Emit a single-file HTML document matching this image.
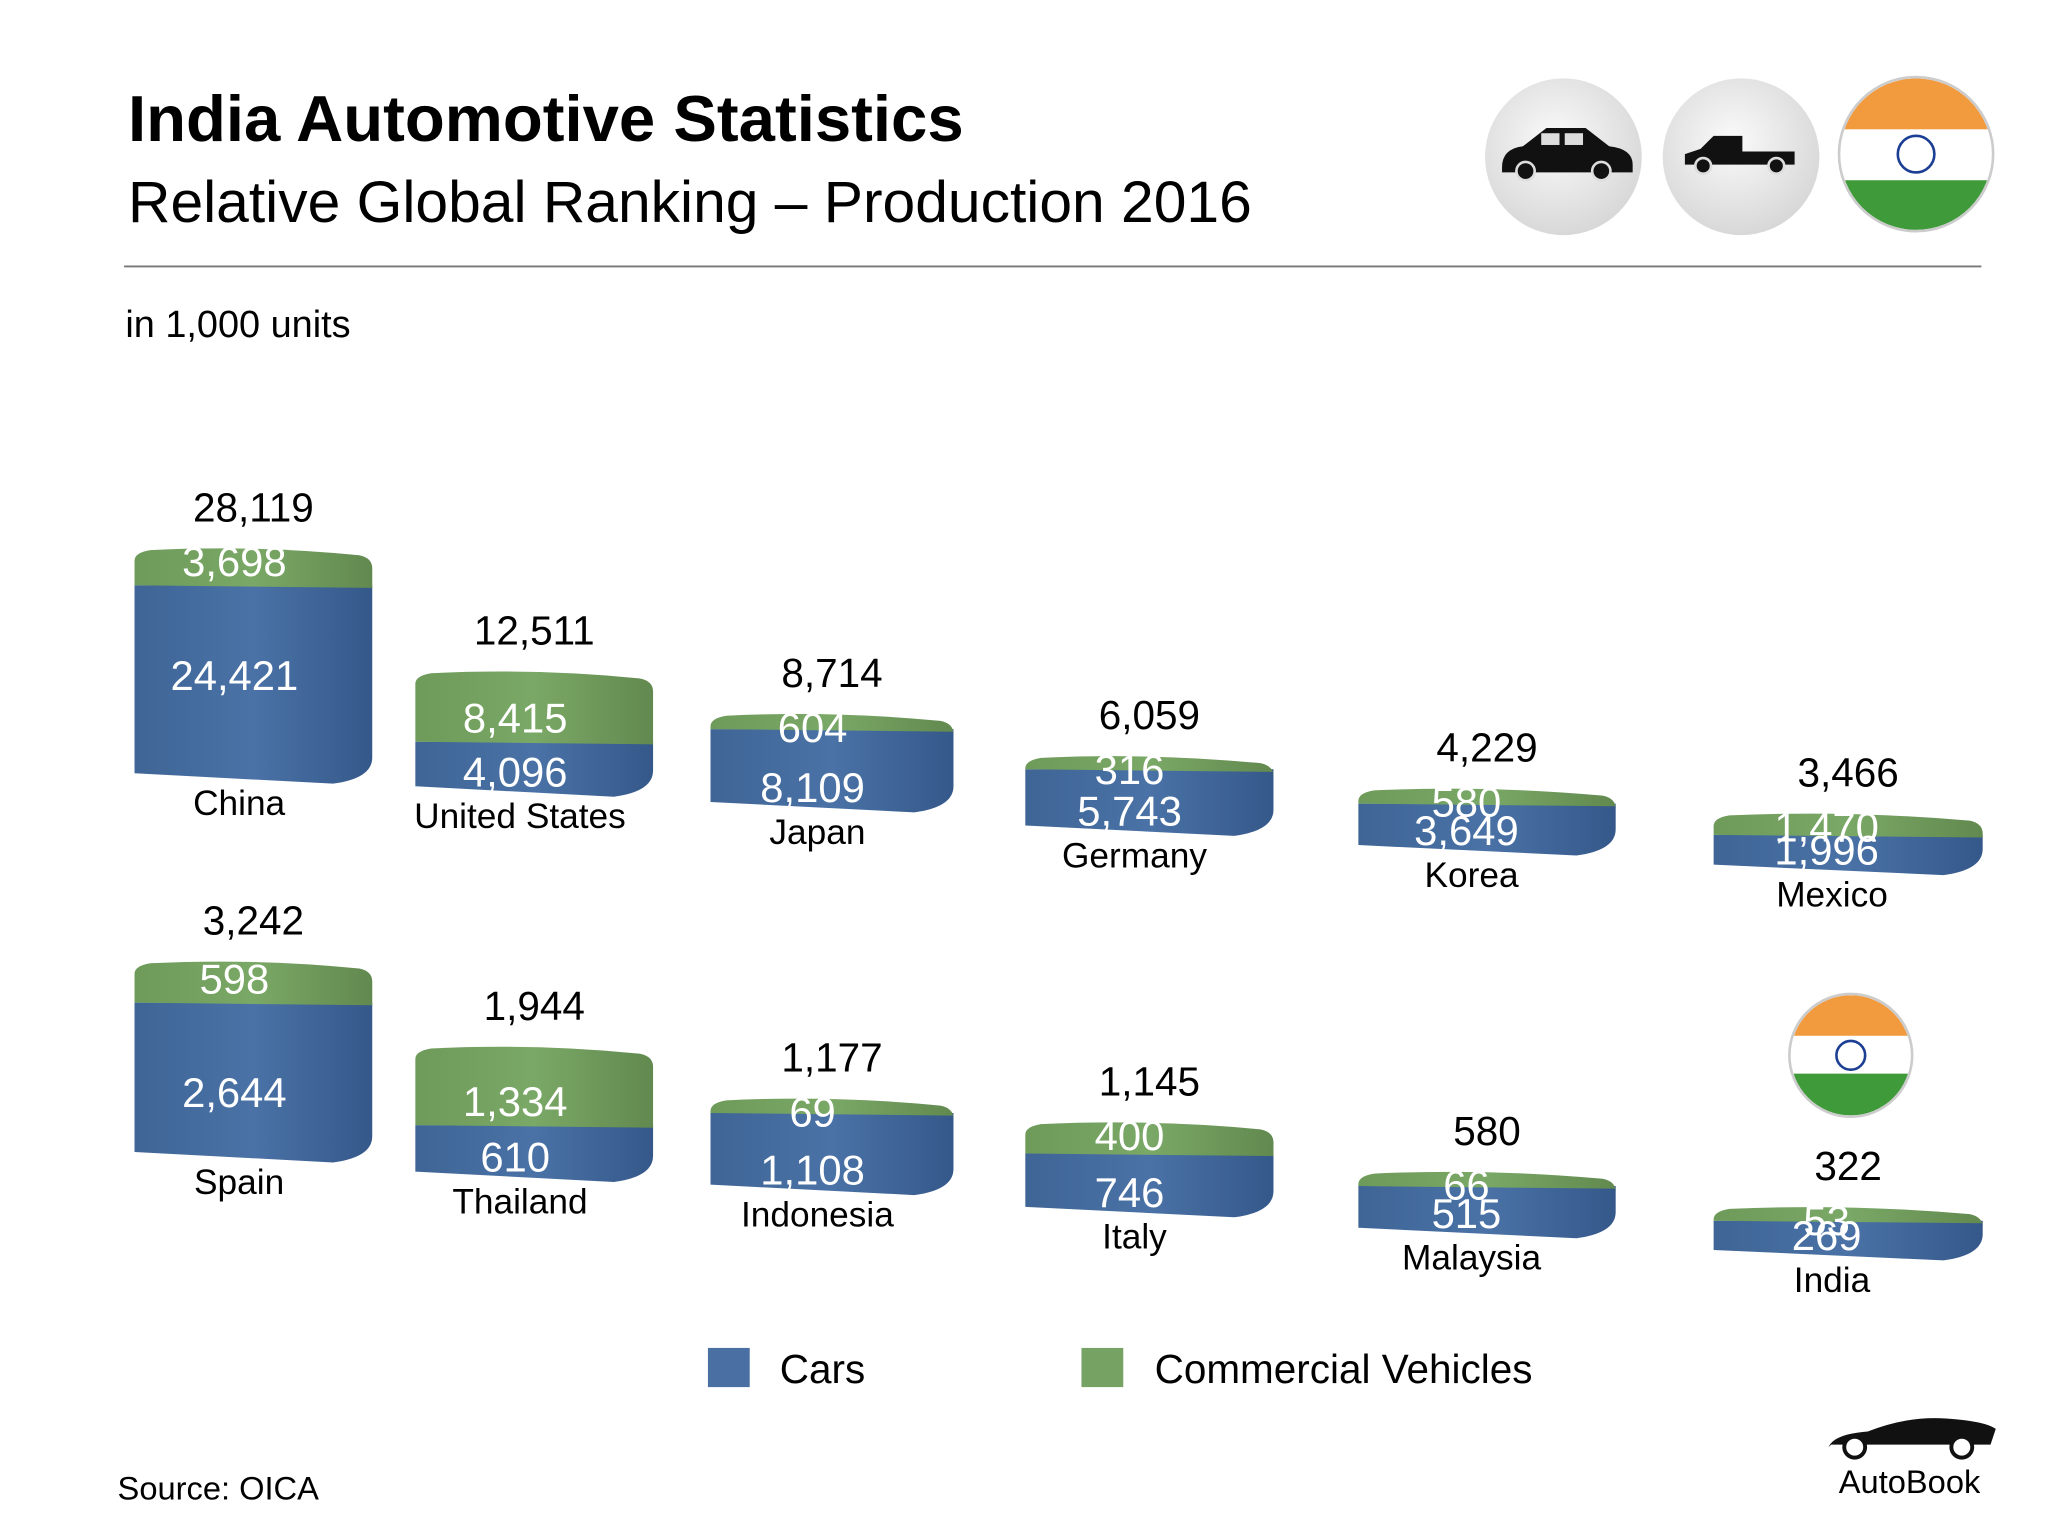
<!DOCTYPE html>
<html><head><meta charset="utf-8">
<style>
html,body{margin:0;padding:0;background:#fff;}
svg{display:block;font-family:"Liberation Sans",sans-serif;}
</style></head>
<body>
<svg id="c" width="2048" height="1536" viewBox="0 0 1568 1176" xmlns="http://www.w3.org/2000/svg">
<defs>
<linearGradient id="gb" x1="0" x2="1" y1="0" y2="0"><stop offset="0" stop-color="#3f6596"/><stop offset="0.5" stop-color="#4a72a6"/><stop offset="1" stop-color="#35588a"/></linearGradient>
<linearGradient id="gg" x1="0" x2="1" y1="0" y2="0"><stop offset="0" stop-color="#6e9a5a"/><stop offset="0.5" stop-color="#7aa866"/><stop offset="1" stop-color="#62894f"/></linearGradient>
<radialGradient id="gc" cx="0.45" cy="0.4" r="0.6"><stop offset="0" stop-color="#fafafa"/><stop offset="1" stop-color="#d8d8d8"/></radialGradient>
<clipPath id="fc1"><circle cx="1467" cy="118" r="58"/></clipPath>
<clipPath id="fc2"><circle cx="1417" cy="808" r="46"/></clipPath>
</defs>
<text x="98" y="108" font-size="50" font-weight="bold">India Automotive Statistics</text>
<text x="98" y="170" font-size="45">Relative Global Ranking – Production 2016</text>
<line x1="95" y1="204" x2="1517" y2="204" stroke="#777" stroke-width="1.5"/>
<text x="96" y="258" font-size="29">in 1,000 units</text>
<g>
<circle cx="1197" cy="120" r="60" fill="url(#gc)"/>
<path d="M1150 128 q0-14 16-16 l18-14 h30 l18 14 q18 2 18 14 v6 h-100z" fill="#111"/>
<rect x="1180" y="102" width="14" height="9" fill="#ddd"/><rect x="1198" y="102" width="14" height="9" fill="#ddd"/>
<circle cx="1168" cy="131" r="7" fill="#111" stroke="#ddd" stroke-width="2"/><circle cx="1226" cy="131" r="7" fill="#111" stroke="#ddd" stroke-width="2"/>
</g>
<g>
<circle cx="1333" cy="120" r="60" fill="url(#gc)"/>
<path d="M1290 126 v-8 l12-4 l10-10 h22 v12 h40 v10z" fill="#111"/>
<circle cx="1304" cy="127" r="6" fill="#111" stroke="#ddd" stroke-width="2"/><circle cx="1360" cy="127" r="6" fill="#111" stroke="#ddd" stroke-width="2"/>
</g>
<g clip-path="url(#fc1)">
<rect x="1405" y="58" width="124" height="42" fill="#f19a3e"/><rect x="1405" y="99" width="124" height="40" fill="#fff"/><rect x="1405" y="138" width="124" height="42" fill="#3f9a3a"/>
<circle cx="1467" cy="118" r="14" fill="none" stroke="#1c3f94" stroke-width="2"/>
</g>
<circle cx="1467" cy="118" r="59" fill="none" stroke="#ccc" stroke-width="2"/>
<g clip-path="url(#fc2)">
<rect x="1370" y="762" width="94" height="32" fill="#f19a3e"/><rect x="1370" y="793" width="94" height="30" fill="#fff"/><rect x="1370" y="822" width="94" height="32" fill="#3f9a3a"/>
<circle cx="1417" cy="808" r="11" fill="none" stroke="#1c3f94" stroke-width="2"/>
</g>
<circle cx="1417" cy="808" r="47" fill="none" stroke="#ccc" stroke-width="2"/>
<g id="bars"></g>
<rect x="542" y="1032" width="32" height="30" fill="#4a6fa3"/>
<text x="597" y="1059" font-size="31">Cars</text>
<rect x="828" y="1032" width="32" height="30" fill="#76a263"/>
<text x="884" y="1059" font-size="31">Commercial Vehicles</text>
<text x="90" y="1148" font-size="25">Source:  OICA</text>
<g>
<path d="M1400 1108 q4-10 30-12 q30-12 60-10 q30 2 38 8 l-4 12 h-122z" fill="#111"/>
<circle cx="1420" cy="1108" r="8" fill="#fff" stroke="#111" stroke-width="3"/><circle cx="1502" cy="1108" r="8" fill="#fff" stroke="#111" stroke-width="3"/>
<text x="1462" y="1143" font-size="25" text-anchor="middle">AutoBook</text>
</g>
</svg>
<script>
const countries1=["China","United States","Japan","Germany","Korea","Mexico"];
const cars1=[24421,4096,8109,5743,3649,1996];
const cv1=[3698,8415,604,316,580,1470];
const totals1=["28,119","12,511","8,714","6,059","4,229","3,466"];
const countries2=["Spain","Thailand","Indonesia","Italy","Malaysia","India"];
const cars2=[2644,610,1108,746,515,269];
const cv2=[598,1334,69,400,66,53];
const totals2=["3,242","1,944","1,177","1,145","580","322"];

const NS="http://www.w3.org/2000/svg";
const g=document.getElementById('bars');
const xL=[103,318,544,785,1040,1312], xR=[285,500,730,975,1237,1518];
const base1=[600,610,622,640,655,670], base2=[890,905,915,932,948,965];
function scale1(v){return v*0.0054;}
function scale2(v){return v*0.0387;}
function fmt(v){return v.toLocaleString('en-US');}
function mk(tag,attrs){const e=document.createElementNS(NS,tag);for(const k in attrs)e.setAttribute(k,attrs[k]);g.appendChild(e);return e;}
function txt(x,y,s,size,fill){const t=mk('text',{x:x,y:y,'font-size':size,'text-anchor':'middle',fill:fill});t.textContent=s;return t;}
function row(countries,cars,cv,totals,base,sc){
  for(let i=0;i<countries.length;i++){
    const x0=xL[i],x1=xR[i],w=x1-x0,b=base[i];
    const hc=sc(cars[i])+20, hv=sc(cv[i])+5;
    const yc=b-hc, yv=yc-hv;
    const r=mk('path',{d:`M${x0} ${b-8} V${yc} H${x1} V${b-20} Q${x1} ${b-4} ${x1-30} ${b} Z`,fill:'url(#gb)'});
    
    
    const gv=mk('path',{d:`M${x0} ${yc} V${yv+6} Q${x0} ${yv} ${x0+12} ${yv-2} Q${w/2+x0} ${yv-6} ${x1-10} ${yv+2} Q${x1} ${yv+4} ${x1} ${yv+12} V${yc+2} Z`,fill:'url(#gg)'});
    
    
    const cx=x0+w*0.42;
    const ct=txt(cx,Math.min(yc+80,b-8),fmt(cars[i]),32,'#fff');
    
    
    const vt=txt(cx,Math.max(yv+18,yc-7),fmt(cv[i]),32,'#fff');
    
    
    const tt=txt(x0+w*0.5,yv-24,totals[i],31,'#000');
    
    
    const nt=txt(x0+w*0.44,b+24,countries[i],27,'#000');
    
    
  }
}
row(countries1,cars1,cv1,totals1,base1,scale1);
row(countries2,cars2,cv2,totals2,base2,scale2);
</script>
</body></html>
